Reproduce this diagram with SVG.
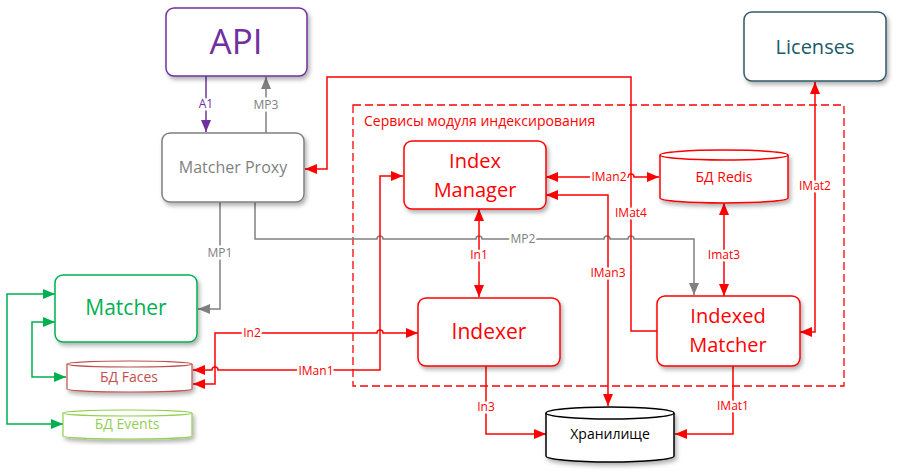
<svg xmlns="http://www.w3.org/2000/svg" width="899" height="472" viewBox="0 0 899 472">
<style>
text{font-family:"Open Sans","Noto Sans","DejaVu Sans",sans-serif;text-anchor:middle}
.box{fill:#fff;stroke-width:1.5;filter:url(#sh)}
.c{fill:none;stroke-width:1.5}
.r{stroke:#FF0000}
.g{stroke:#808080}
.p{stroke:#7030A0}
.gr{stroke:#00B050}
.lbl{font-size:12px;paint-order:stroke;stroke:#fff;stroke-width:5px;stroke-linejoin:round}
.big{font-size:20px}
</style>
<defs>
<filter id="sh" x="-10%" y="-10%" width="125%" height="130%">
<feDropShadow dx="2" dy="3" stdDeviation="2" flood-color="#000" flood-opacity="0.3"/>
</filter>
<marker id="ar" viewBox="0 0 12 10" refX="12" refY="5" markerWidth="12" markerHeight="10" markerUnits="userSpaceOnUse" orient="auto-start-reverse"><path d="M0,0L12,5L0,10z" fill="#FF0000"/></marker>
<marker id="ag" viewBox="0 0 12 10" refX="12" refY="5" markerWidth="12" markerHeight="10" markerUnits="userSpaceOnUse" orient="auto-start-reverse"><path d="M0,0L12,5L0,10z" fill="#808080"/></marker>
<marker id="ap" viewBox="0 0 12 10" refX="12" refY="5" markerWidth="12" markerHeight="10" markerUnits="userSpaceOnUse" orient="auto-start-reverse"><path d="M0,0L12,5L0,10z" fill="#7030A0"/></marker>
<marker id="agr" viewBox="0 0 12 10" refX="12" refY="5" markerWidth="12" markerHeight="10" markerUnits="userSpaceOnUse" orient="auto-start-reverse"><path d="M0,0L12,5L0,10z" fill="#00B050"/></marker>
</defs>
<rect width="899" height="472" fill="#fff"/>

<g id="group-indexing">
<rect x="353" y="105" width="491" height="281" fill="none" stroke="#FF0000" stroke-width="1.3" stroke-dasharray="8,4"/>
<text x="364" y="126" style="text-anchor:start;font-size:14px" fill="#FF0000">Сервисы модуля индексирования</text>
</g>

<g id="connectors">
<path class="c p" d="M206,76V132" marker-end="url(#ap)"/>
<path class="c g" d="M266,133V77" marker-end="url(#ag)"/>
<path class="c g" d="M220,202V309H198" marker-end="url(#ag)"/>
<path class="c g" d="M255,202V239H377a3,3 0 0 1 6,0H476a3,3 0 0 1 6,0H604a3,3 0 0 1 6,0H628a3,3 0 0 1 6,0H694V295" marker-end="url(#ag)"/>
<path class="c r" d="M657,331H631V77H327V169H305" marker-end="url(#ar)"/>
<path class="c r" d="M546,177H628a3,3 0 0 1 6,0H659" marker-start="url(#ar)" marker-end="url(#ar)"/>
<path class="c r" d="M608,406V195H546" marker-start="url(#ar)" marker-end="url(#ar)"/>
<path class="c r" d="M479,209V297" marker-start="url(#ar)" marker-end="url(#ar)"/>
<path class="c r" d="M403,176H380V370H218a3,3 0 0 0 -6,0H193" marker-start="url(#ar)" marker-end="url(#ar)"/>
<path class="c r" d="M418,333H383a3,3 0 0 0 -6,0H215V384H193" marker-start="url(#ar)" marker-end="url(#ar)"/>
<path class="c r" d="M724,203V296" marker-start="url(#ar)" marker-end="url(#ar)"/>
<path class="c r" d="M815,82V332H800" marker-start="url(#ar)" marker-end="url(#ar)"/>
<path class="c r" d="M733,366V434H675" marker-end="url(#ar)"/>
<path class="c r" d="M486,366V434H546" marker-end="url(#ar)"/>
<path class="c gr" d="M63,424H7V294H55" marker-start="url(#agr)" marker-end="url(#agr)"/>
<path class="c gr" d="M66,377H32V322H55" marker-start="url(#agr)" marker-end="url(#agr)"/>

<text class="lbl" x="206" y="108" fill="#7030A0">A1</text>
<text class="lbl" x="266" y="109" fill="#808080">MP3</text>
<text class="lbl" x="220" y="257" fill="#808080">MP1</text>
<text class="lbl" x="523" y="243" fill="#808080">MP2</text>
<text class="lbl" x="479" y="259" fill="#FF0000">In1</text>
<text class="lbl" x="608" y="277" fill="#FF0000">IMan3</text>
<text class="lbl" x="631" y="217" fill="#FF0000">IMat4</text>
<text class="lbl" x="609" y="181" fill="#FF0000">IMan2</text>
<text class="lbl" x="724" y="259" fill="#FF0000">Imat3</text>
<text class="lbl" x="815" y="190" fill="#FF0000">IMat2</text>
<text class="lbl" x="252" y="337" fill="#FF0000">In2</text>
<text class="lbl" x="316" y="375" fill="#FF0000">IMan1</text>
<text class="lbl" x="486" y="411" fill="#FF0000">In3</text>
<text class="lbl" x="733" y="410" fill="#FF0000">IMat1</text>
</g>

<g id="api">
<rect class="box" x="166" y="8" width="141" height="68" rx="8" stroke="#7030A0"/>
<text x="236" y="54" style="font-size:35px" fill="#7030A0">API</text>
</g>

<g id="matcher-proxy">
<rect class="box" x="162" y="133" width="142" height="69" rx="8" stroke="#808080"/>
<text x="233" y="173" style="font-size:16px" fill="#7F7F7F">Matcher Proxy</text>
</g>

<g id="licenses">
<rect class="box" x="744" y="12" width="142" height="69" rx="8" stroke="#31596B"/>
<text x="815" y="54" class="big" fill="#215967">Licenses</text>
</g>

<g id="index-manager">
<rect class="box" x="404" y="141" width="142" height="68" rx="8" stroke="#FF0000"/>
<text x="475" y="168" class="big" fill="#FF0000">Index</text>
<text x="475" y="197" class="big" fill="#FF0000">Manager</text>
</g>

<g id="indexer">
<rect class="box" x="418" y="298" width="142" height="68" rx="8" stroke="#FF0000"/>
<text x="489" y="339" style="font-size:21px" fill="#FF0000">Indexer</text>
</g>

<g id="indexed-matcher">
<rect class="box" x="657" y="296" width="143" height="70" rx="8" stroke="#FF0000"/>
<text x="728" y="323" class="big" fill="#FF0000">Indexed</text>
<text x="728" y="352" class="big" fill="#FF0000">Matcher</text>
</g>

<g id="matcher">
<rect class="box" x="55" y="275" width="142" height="67" rx="8" stroke="#00B050"/>
<text x="126" y="315" style="font-size:21px" fill="#00B050">Matcher</text>
</g>

<g id="db-redis">
<path class="box" d="M660,155a64,5 0 0 1 128,0V198a64,5 0 0 1 -128,0Z" stroke="#FF0000"/>
<path d="M660,155a64,5 0 0 0 128,0" fill="none" stroke="#FF0000" stroke-width="1.5"/>
<text x="724" y="182" style="font-size:14px" fill="#FF0000">БД Redis</text>
</g>

<g id="storage">
<path class="box" d="M546,413a64,6 0 0 1 128,0V456a64,6 0 0 1 -128,0Z" stroke="#000"/>
<path d="M546,413a64,6 0 0 0 128,0" fill="none" stroke="#000" stroke-width="1.5"/>
<text x="610" y="439" style="font-size:14px" fill="#000">Хранилище</text>
</g>

<g id="db-faces">
<path class="box" d="M67,364a62.5,3 0 0 1 125,0V389a62.5,3 0 0 1 -125,0Z" stroke="#C0504D" style="stroke-width:1.2"/>
<path d="M67,364a62.5,3 0 0 0 125,0" fill="none" stroke="#C0504D" stroke-width="1.2"/>
<text x="129" y="382" style="font-size:14px" fill="#C0504D">БД Faces</text>
</g>

<g id="db-events">
<path class="box" d="M63,413a64.5,3 0 0 1 129,0V436a64.5,3 0 0 1 -129,0Z" stroke="#92D050" style="stroke-width:1.2"/>
<path d="M63,413a64.5,3 0 0 0 129,0" fill="none" stroke="#92D050" stroke-width="1.2"/>
<text x="127" y="429" style="font-size:14px" fill="#92D050">БД Events</text>
</g>
</svg>
